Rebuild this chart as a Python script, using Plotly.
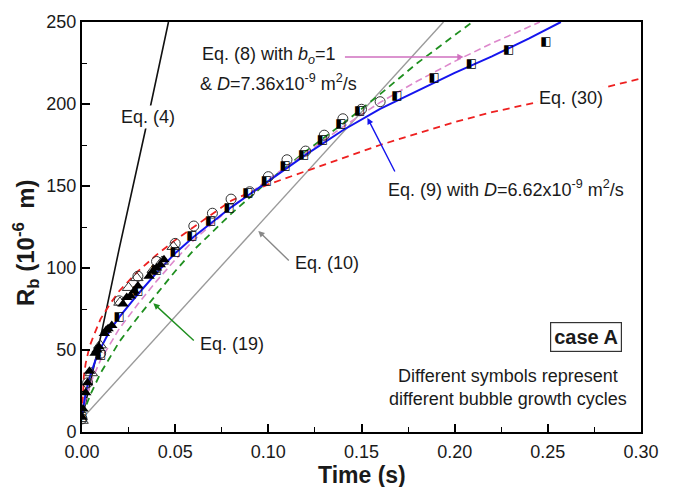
import plotly.graph_objects as go

# ---- model curves: time (s) vs bubble radius (1e-6 m) ----
eq4_t = [0.0, 0.010, 0.020, 0.034, 0.0464]
eq4_r = [8, 58, 112, 184, 250]

eq10_t = [0.0, 0.10, 0.194]
eq10_r = [8, 133, 250]

eq9_t = [0.0, 0.001, 0.002, 0.004, 0.007, 0.010, 0.015, 0.020, 0.030, 0.040, 0.050,
         0.060, 0.070, 0.080, 0.090, 0.100, 0.120, 0.140, 0.160, 0.180, 0.200, 0.220,
         0.240, 0.257]
eq9_r = [10, 18, 24, 33, 43, 51, 62, 70, 84, 97, 109, 119, 128, 137, 145, 153, 169,
         184, 197, 208, 219, 229, 240, 250]

eq8_t = [0.0, 0.002, 0.005, 0.010, 0.020, 0.030, 0.040, 0.050, 0.060, 0.080, 0.100,
         0.120, 0.140, 0.160, 0.180, 0.200, 0.220, 0.2457]
eq8_r = [10, 20, 31, 44, 63, 78, 92, 105, 117, 137, 154, 170, 186, 201, 214, 226, 237, 250]

eq19_t = [0.0, 0.002, 0.005, 0.010, 0.020, 0.030, 0.040, 0.050, 0.060, 0.080, 0.100,
          0.120, 0.140, 0.160, 0.180, 0.2095]
eq19_r = [10, 16, 24, 36, 55, 70, 84, 98, 111, 133, 153, 171, 188, 206, 225, 250]

eq30_t = [0.0, 0.0005, 0.001, 0.002, 0.004, 0.006, 0.010, 0.015, 0.020, 0.030, 0.040,
          0.050, 0.060, 0.080, 0.100, 0.120, 0.140, 0.160, 0.180, 0.200, 0.220, 0.240,
          0.260, 0.280, 0.300]
eq30_r = [10, 27, 34, 42, 52, 58, 69, 78, 86, 98, 108, 117, 125, 141, 151, 159, 167,
          175, 182, 189, 195, 200, 205, 210, 215.5]

# ---- measured bubble radii, one list per growth cycle ----
circ_t = [0.0, 0.003, 0.010, 0.020, 0.030, 0.040, 0.050, 0.060, 0.070, 0.080, 0.090,
          0.100, 0.110, 0.120, 0.130, 0.140, 0.150, 0.160]
circ_r = [8, 30, 48, 80, 95, 104, 115, 125.6, 133.4, 142, 146.5, 155.7, 166, 171.3,
          181, 191, 196.8, 201.4]

half_t = [0.0, 0.010, 0.020, 0.030, 0.040, 0.050, 0.059, 0.069, 0.079, 0.089, 0.099,
          0.109, 0.119, 0.129, 0.139, 0.149, 0.169, 0.189, 0.209, 0.229, 0.249]
half_r = [9, 47, 70, 86, 99, 110, 119.5, 128.8, 136.8, 146, 153, 162, 169, 178, 188,
          196, 205, 215.6, 224.4, 232.9, 238]

tri_t = [0.0, 0.0005, 0.002, 0.003, 0.004, 0.007, 0.008, 0.009, 0.012, 0.013, 0.014,
         0.016, 0.022, 0.024, 0.026, 0.028, 0.030, 0.036, 0.038, 0.040, 0.042, 0.044]
tri_r = [9, 14, 24, 30, 37, 48, 50, 52, 60, 62, 63, 65, 78, 82, 83, 86, 89, 95, 98,
         100, 102, 105]

otri_t = [0.0, 0.005, 0.0097, 0.0204, 0.0250, 0.0294, 0.0383, 0.0430, 0.049]
otri_r = [7, 36, 53, 79, 88, 94, 99, 104, 113]

FONT = "Liberation Sans, Arial, sans-serif"
INK = "#1a1a1a"

fig = go.Figure()


def curve(t, r, color, width, dash="solid"):
    fig.add_trace(go.Scatter(x=t, y=r, mode="lines",
                             line=dict(color=color, width=width, dash=dash),
                             hoverinfo="skip"))


curve(eq10_t, eq10_r, "#9a9a9a", 1.4)
curve(eq4_t, eq4_r, "#111111", 1.6)
curve(eq19_t, eq19_r, "#1f8f1f", 1.8, "7px,5px")
curve(eq30_t, eq30_r, "#ee2020", 1.8, "7px,5px")
curve(eq8_t, eq8_r, "#dd88cc", 1.6, "7px,4px")
curve(eq9_t, eq9_r, "#1515ee", 2.0)

fig.add_trace(go.Scatter(x=circ_t, y=circ_r, mode="markers",
                         marker=dict(symbol="circle-open", size=10, color="#333333",
                                     line=dict(width=1))))
fig.add_trace(go.Scatter(x=otri_t, y=otri_r, mode="markers",
                         marker=dict(symbol="triangle-up-open", size=11, color="#333333",
                                     line=dict(width=1))))
fig.add_trace(go.Scatter(x=tri_t, y=tri_r, mode="markers",
                         marker=dict(symbol="triangle-up", size=10, color="#000000")))
fig.add_trace(go.Scatter(x=half_t, y=half_r, mode="text", text=["\u25e7"] * len(half_t),
                         textposition="middle center",
                         textfont=dict(family="DejaVu Sans", size=12, color="#000000")))

axis_common = dict(
    showline=True, linewidth=2, linecolor="#000000", mirror=True,
    ticks="inside", ticklen=8, tickwidth=1.5, tickcolor="#000000",
    showgrid=False, zeroline=False,
    tickfont=dict(family=FONT, size=18, color=INK),
)

fig.update_xaxes(range=[0, 0.30], tickvals=[0, 0.05, 0.10, 0.15, 0.20, 0.25, 0.30],
                 tickformat=".2f", ticklabelstandoff=2,
                 minor=dict(ticks="inside", ticklen=5, tickwidth=1.2, tickcolor="#000000",
                            dtick=0.025),
                 **axis_common)
fig.update_yaxes(range=[0, 250], dtick=50,
                 minor=dict(ticks="inside", ticklen=5, tickwidth=1.2, tickcolor="#000000",
                            dtick=25),
                 **axis_common)

# arrows: (head_t, head_r, tail_t, tail_r, color)
arrows = [
    (0.2048, 228.7, 0.1403, 228.7, "#d070c0"),
    (0.1532, 191.5, 0.1683, 157.9, "#1515ee"),
    (0.0946, 122.6, 0.1118, 103.7, "#888888"),
    (0.0383, 78.5, 0.0608, 54.9, "#1f8f1f"),
]
annotations = []
for hx, hy, tx, ty, col in arrows:
    annotations.append(dict(x=hx, y=hy, ax=tx, ay=ty, xref="x", yref="y",
                            axref="x", ayref="y", text="", showarrow=True,
                            arrowhead=2, arrowsize=0.9, arrowwidth=1.4, arrowcolor=col))

labels = [
    (0.0352, 191.8, "Eq. (4)", "center", "white"),
    (0.0634, 229.3, "Eq. (8) with <i>b<sub>o</sub></i>=1", "left", None),
    (0.0624, 213.4, "&amp; <i>D</i>=7.36x10<sup>-9</sup> m<sup>2</sup>/s", "left", None),
    (0.1629, 148.2, "Eq. (9) with <i>D</i>=6.62x10<sup>-9</sup> m<sup>2</sup>/s", "left", None),
    (0.1134, 103.0, "Eq. (10)", "left", None),
    (0.0624, 53.7, "Eq. (19)", "left", None),
    (0.2441, 203.7, "Eq. (30)", "left", "white"),
    (0.2285, 27.4, "Different symbols represent<br>different bubble growth cycles", "center", None),
]
for x, y, txt, anchor, bg in labels:
    a = dict(x=x, y=y, xref="x", yref="y", text=txt, showarrow=False,
             xanchor=anchor, yanchor="middle",
             font=dict(family=FONT, size=18, color=INK))
    if bg:
        a["bgcolor"] = bg
    annotations.append(a)

annotations.append(dict(x=0.2707, y=58.2, xref="x", yref="y", text="<b>case A</b>",
                        showarrow=False, xanchor="center", yanchor="middle",
                        font=dict(family=FONT, size=20, color=INK),
                        bordercolor="#333333", borderwidth=1.2, borderpad=3,
                        bgcolor="white"))

# axis titles
annotations.append(dict(x=0.5, y=-0.1049, xref="paper", yref="paper",
                        text="<b>Time (s)</b>", showarrow=False,
                        xanchor="center", yanchor="middle",
                        font=dict(family=FONT, size=23, color=INK)))
annotations.append(dict(x=-0.1002, y=0.4634, xref="paper", yref="paper",
                        text="<b>R<sub>b</sub> (10<sup>-6</sup>\u00a0 m)</b>", showarrow=False,
                        textangle=-90, xanchor="center", yanchor="middle",
                        font=dict(family=FONT, size=24, color=INK)))

fig.update_layout(
    width=676, height=487,
    margin=dict(l=82, r=35, t=22, b=55),
    paper_bgcolor="white", plot_bgcolor="white",
    showlegend=False,
    annotations=annotations,
)

fig.write_html("out.html")
